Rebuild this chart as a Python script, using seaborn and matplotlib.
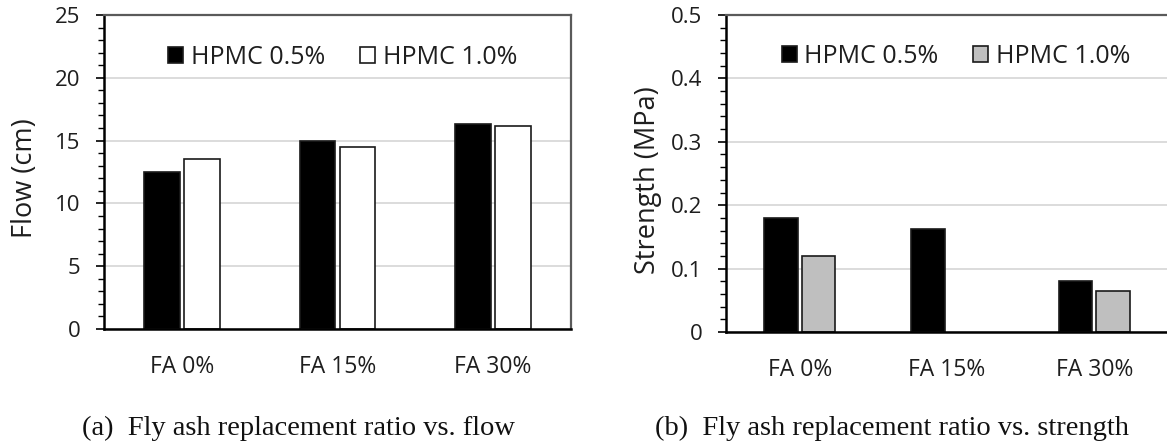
import numpy as np
import pandas as pd
import matplotlib
matplotlib.use("Agg")
import matplotlib.pyplot as plt
from matplotlib.ticker import MultipleLocator, FuncFormatter
import seaborn as sns

# ---------------- data ----------------
categories = ["FA 0%", "FA 15%", "FA 30%"]
series = ["HPMC 0.5%", "HPMC 1.0%"]
flow_hpmc05 = [12.5, 15.0, 16.3]
flow_hpmc10 = [13.5, 14.5, 16.2]
strength_hpmc05 = [0.180, 0.162, 0.081]
strength_hpmc10 = [0.120, np.nan, 0.065]   # no bar for FA 15%
caption_a = "(a)  Fly ash replacement ratio vs. flow"
caption_b = "(b)  Fly ash replacement ratio vs. strength"

df_flow = pd.DataFrame({
    "FA": categories * 2,
    "HPMC": [series[0]] * 3 + [series[1]] * 3,
    "value": flow_hpmc05 + flow_hpmc10,
})
df_str = pd.DataFrame({
    "FA": categories * 2,
    "HPMC": [series[0]] * 3 + [series[1]] * 3,
    "value": strength_hpmc05 + strength_hpmc10,
}).dropna()

# ---------------- style ----------------
sns.set_style("white")
plt.rcParams["font.family"] = ["Open Sans", "DejaVu Sans"]

W, H = 1167, 446
fig = plt.figure(figsize=(W / 100, H / 100), dpi=100)

def fx(px):
    return px / W

def fy(py):
    return 1 - py / H

ax1 = fig.add_axes([fx(104), fy(329), fx(571) - fx(104), fy(15) - fy(329)])
ax2 = fig.add_axes([fx(726), fy(332), fx(1168) - fx(726), fy(15) - fy(332)])

YTICK_FS = 16
XTICK_FS = 16.5
LABEL_FS = 19.5
LEG_FS = 18
CAP_FS = 20.5


def style_axes(ax, ymax, major, minor, ylabel, label_x, show_right=True):
    ax.set_ylim(0, ymax)
    ax.set_xlim(-0.5, 2.5)
    ax.yaxis.set_major_locator(MultipleLocator(major))
    ax.yaxis.set_minor_locator(MultipleLocator(minor))
    ax.yaxis.set_major_formatter(FuncFormatter(lambda v, p: f"{v:g}"))
    ax.grid(axis="y", which="major", color="#d9d9d9", linewidth=1.3)
    ax.set_axisbelow(True)
    ax.tick_params(axis="y", which="major", direction="out", length=6, width=1.2,
                   pad=11, labelsize=YTICK_FS, left=True, color="black",
                   labelcolor="#1e1e1e")
    ax.tick_params(axis="y", which="minor", direction="out", length=4.5, width=1.0,
                   left=True, color="black")
    ax.tick_params(axis="x", length=0, pad=19, labelsize=XTICK_FS, labelcolor="#1e1e1e")
    for side in ("left", "bottom"):
        ax.spines[side].set_color("black")
        ax.spines[side].set_linewidth(1.8)
    for side in ("top", "right"):
        ax.spines[side].set_color("#5a5a5a")
        ax.spines[side].set_linewidth(1.6)
    ax.spines["right"].set_visible(show_right)
    ax.set_xlabel("")
    ax.set_ylabel(ylabel, fontsize=LABEL_FS, color="#1e1e1e", va="center")
    ax.yaxis.set_label_coords(label_x, 0.48)


# ---------------- (a) flow ----------------
sns.barplot(data=df_flow, x="FA", y="value", hue="HPMC", hue_order=series,
            order=categories, palette=["#000000", "#ffffff"], saturation=1,
            width=0.514, gap=0.11, edgecolor="#1a1a1a", linewidth=1.2,
            errorbar=None, ax=ax1)
style_axes(ax1, 25, 5, 1, "Flow (cm)", -0.169)

# ---------------- (b) strength ----------------
sns.barplot(data=df_str, x="FA", y="value", hue="HPMC", hue_order=series,
            order=categories, palette=["#000000", "#bfbfbf"], saturation=1,
            width=0.511, gap=0.11, edgecolor="#1a1a1a", linewidth=1.2,
            errorbar=None, ax=ax2)
style_axes(ax2, 0.5, 0.1, 0.02, "Strength (MPa)", -0.177, show_right=False)

# ---------------- legends ----------------
def redo_legend(ax, anchor):
    old = ax.get_legend()
    handles = old.legend_handles
    labels = [t.get_text() for t in old.get_texts()]
    old.remove()
    ax.legend(handles, labels, loc="center", bbox_to_anchor=anchor, ncol=2,
              frameon=False, fontsize=LEG_FS, handlelength=0.6,
              handleheight=0.6, handletextpad=0.3, columnspacing=1.4,
              labelcolor="#1e1e1e")

redo_legend(ax1, (0.511, 0.866))
redo_legend(ax2, (0.52, 0.87))

# ---------------- captions ----------------
fig.text(fx(299), fy(428), caption_a, ha="center", va="center",
         fontsize=CAP_FS, family=["Liberation Serif", "DejaVu Serif"], color="#111111")
fig.text(fx(892), fy(428), caption_b, ha="center", va="center",
         fontsize=CAP_FS, family=["Liberation Serif", "DejaVu Serif"], color="#111111")

fig.savefig("out.png", dpi=100, facecolor="white")
